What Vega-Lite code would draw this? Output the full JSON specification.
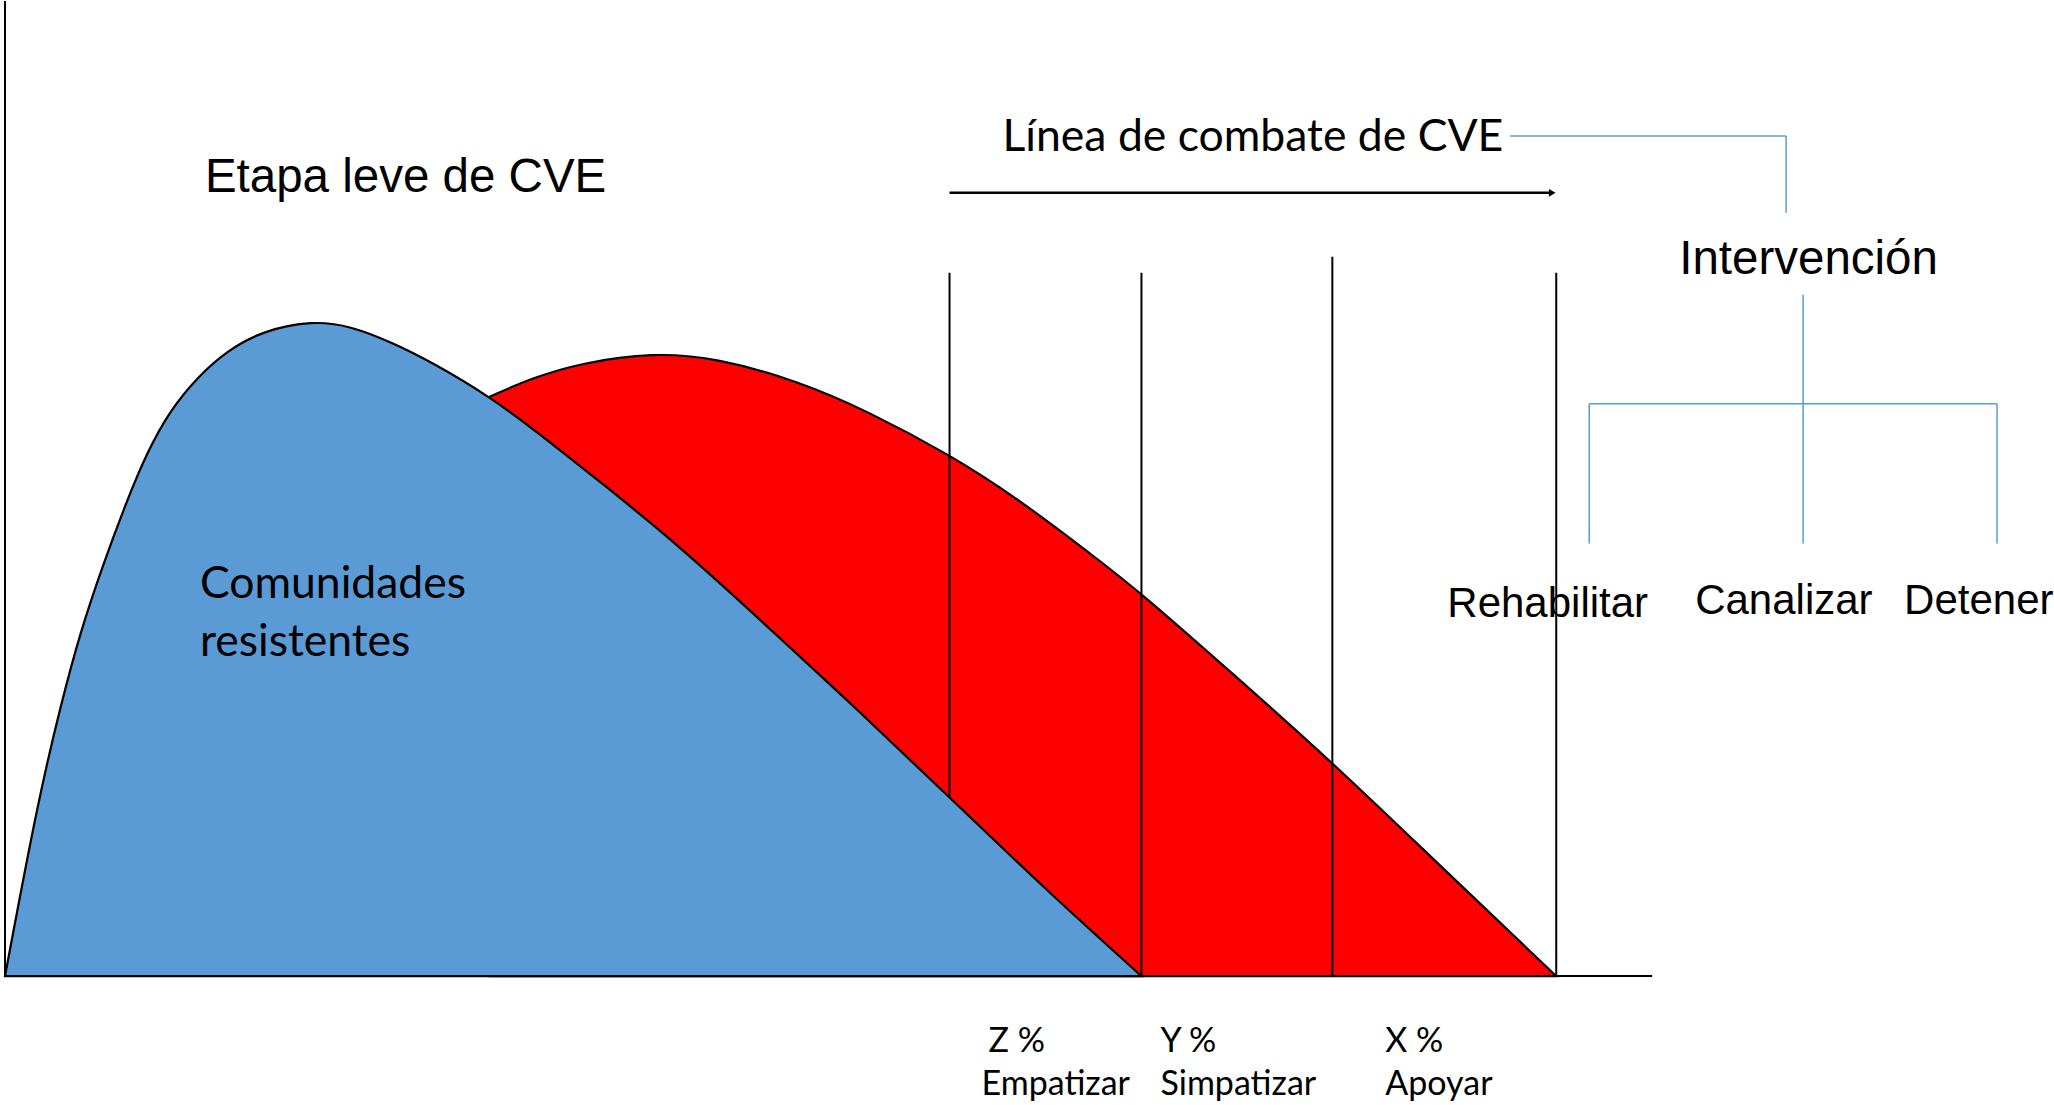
{
  "$schema": "https://vega.github.io/schema/vega-lite/v6.json",
  "width": 2054,
  "height": 1105,
  "padding": 0,
  "autosize": {"type": "fit", "contains": "padding"},
  "background": "white",
  "config": {"view": {"stroke": null}},
  "datasets": {
    "azul": [
      {"x": 5, "y": 976}, {"x": 38, "y": 800}, {"x": 62, "y": 700}, {"x": 80, "y": 633},
      {"x": 102, "y": 567}, {"x": 127, "y": 500}, {"x": 147, "y": 452}, {"x": 170, "y": 410},
      {"x": 197, "y": 377}, {"x": 227, "y": 350}, {"x": 263, "y": 330}, {"x": 313, "y": 320},
      {"x": 350, "y": 325}, {"x": 393, "y": 342}, {"x": 433, "y": 362}, {"x": 490, "y": 396},
      {"x": 533, "y": 428}, {"x": 600, "y": 481}, {"x": 667, "y": 535}, {"x": 733, "y": 594},
      {"x": 800, "y": 656}, {"x": 850, "y": 702}, {"x": 950, "y": 797}, {"x": 1050, "y": 893},
      {"x": 1142, "y": 976}
    ],
    "rojo": [
      {"x": 490, "y": 396}, {"x": 533, "y": 377}, {"x": 583, "y": 362}, {"x": 653, "y": 352},
      {"x": 717, "y": 357}, {"x": 800, "y": 381}, {"x": 867, "y": 410}, {"x": 950, "y": 454},
      {"x": 1017, "y": 497}, {"x": 1100, "y": 560}, {"x": 1142, "y": 593}, {"x": 1233, "y": 673},
      {"x": 1333, "y": 762}, {"x": 1433, "y": 858}, {"x": 1557, "y": 976}
    ],
    "ejes": [
      {"x": 5, "y": 0, "x2": 5, "y2": 976},
      {"x": 5, "y": 976, "x2": 1653, "y2": 976}
    ],
    "etapas": [
      {"x": 950, "y": 272, "x2": 950, "y2": 797},
      {"x": 1142, "y": 272, "x2": 1142, "y2": 976},
      {"x": 1333, "y": 256, "x2": 1333, "y2": 976},
      {"x": 1557, "y": 272, "x2": 1557, "y2": 976}
    ],
    "flecha": [
      {"x": 950, "y": 192, "x2": 1550, "y2": 192}
    ],
    "punta": [
      {"x": 1553, "y": 192}
    ],
    "conectores": [
      {"x": 1511, "y": 135, "x2": 1787, "y2": 135},
      {"x": 1787, "y": 135, "x2": 1787, "y2": 212},
      {"x": 1804, "y": 294, "x2": 1804, "y2": 543},
      {"x": 1590, "y": 403, "x2": 1998, "y2": 403},
      {"x": 1590, "y": 403, "x2": 1590, "y2": 543},
      {"x": 1998, "y": 403, "x2": 1998, "y2": 543}
    ],
    "titulos": [
      {"x": 205, "y": 191, "t": "Etapa leve de CVE"},
      {"x": 1680, "y": 273, "t": "Intervención"}
    ],
    "acciones": [
      {"x": 1448, "y": 617, "t": "Rehabilitar"},
      {"x": 1696, "y": 614, "t": "Canalizar"},
      {"x": 1905, "y": 614, "t": "Detener"}
    ],
    "etiquetas": [
      {"x": 1003, "y": 150, "t": "Línea de combate de CVE"},
      {"x": 200, "y": 598, "t": "Comunidades"},
      {"x": 200, "y": 656, "t": "resistentes"}
    ],
    "porcentajes": [
      {"x": 989, "y": 1052, "t": "Z %"},
      {"x": 982, "y": 1095, "t": "Empatizar"},
      {"x": 1161, "y": 1052, "t": "Y %"},
      {"x": 1161, "y": 1095, "t": "Simpatizar"},
      {"x": 1386, "y": 1052, "t": "X %"},
      {"x": 1386, "y": 1095, "t": "Apoyar"}
    ]
  },
  "layer": [
    {
      "data": {"name": "rojo"},
      "mark": {"type": "area", "fill": "#FF0000", "stroke": "black", "strokeWidth": 2.2, "interpolate": "basis"},
      "encoding": {
        "x": {"field": "x", "type": "quantitative", "scale": {"domain": [0, 2054], "nice": false, "zero": false}, "axis": null},
        "y": {"field": "y", "type": "quantitative", "scale": {"domain": [0, 1105], "nice": false, "zero": false, "reverse": true}, "axis": null},
        "y2": {"datum": 976}
      }
    },
    {
      "data": {"name": "azul"},
      "mark": {"type": "area", "fill": "#5B9BD5", "stroke": "black", "strokeWidth": 2.2, "interpolate": "basis"},
      "encoding": {
        "x": {"field": "x", "type": "quantitative"},
        "y": {"field": "y", "type": "quantitative"},
        "y2": {"datum": 976}
      }
    },
    {
      "data": {"name": "ejes"},
      "mark": {"type": "rule", "color": "black", "strokeWidth": 2},
      "encoding": {
        "x": {"field": "x", "type": "quantitative"},
        "y": {"field": "y", "type": "quantitative"},
        "x2": {"field": "x2"},
        "y2": {"field": "y2"}
      }
    },
    {
      "data": {"name": "etapas"},
      "mark": {"type": "rule", "color": "black", "strokeWidth": 2},
      "encoding": {
        "x": {"field": "x", "type": "quantitative"},
        "y": {"field": "y", "type": "quantitative"},
        "x2": {"field": "x2"},
        "y2": {"field": "y2"}
      }
    },
    {
      "data": {"name": "flecha"},
      "mark": {"type": "rule", "color": "black", "strokeWidth": 2.5},
      "encoding": {
        "x": {"field": "x", "type": "quantitative"},
        "y": {"field": "y", "type": "quantitative"},
        "x2": {"field": "x2"},
        "y2": {"field": "y2"}
      }
    },
    {
      "data": {"name": "punta"},
      "mark": {"type": "point", "shape": "triangle-right", "filled": true, "color": "black", "opacity": 1, "size": 60},
      "encoding": {
        "x": {"field": "x", "type": "quantitative"},
        "y": {"field": "y", "type": "quantitative"}
      }
    },
    {
      "data": {"name": "conectores"},
      "mark": {"type": "rule", "color": "#5B9BD5", "strokeWidth": 1.5},
      "encoding": {
        "x": {"field": "x", "type": "quantitative"},
        "y": {"field": "y", "type": "quantitative"},
        "x2": {"field": "x2"},
        "y2": {"field": "y2"}
      }
    },
    {
      "data": {"name": "titulos"},
      "mark": {"type": "text", "font": "Liberation Sans", "fontSize": 47.5, "align": "left", "baseline": "alphabetic", "color": "black"},
      "encoding": {
        "x": {"field": "x", "type": "quantitative"},
        "y": {"field": "y", "type": "quantitative"},
        "text": {"field": "t"}
      }
    },
    {
      "data": {"name": "acciones"},
      "mark": {"type": "text", "font": "Liberation Sans", "fontSize": 42, "align": "left", "baseline": "alphabetic", "color": "black"},
      "encoding": {
        "x": {"field": "x", "type": "quantitative"},
        "y": {"field": "y", "type": "quantitative"},
        "text": {"field": "t"}
      }
    },
    {
      "data": {"name": "etiquetas"},
      "mark": {"type": "text", "font": "Lato", "fontSize": 44.5, "align": "left", "baseline": "alphabetic", "color": "black"},
      "encoding": {
        "x": {"field": "x", "type": "quantitative"},
        "y": {"field": "y", "type": "quantitative"},
        "text": {"field": "t"}
      }
    },
    {
      "data": {"name": "porcentajes"},
      "mark": {"type": "text", "font": "Lato", "fontSize": 34, "align": "left", "baseline": "alphabetic", "color": "black"},
      "encoding": {
        "x": {"field": "x", "type": "quantitative"},
        "y": {"field": "y", "type": "quantitative"},
        "text": {"field": "t"}
      }
    }
  ]
}
